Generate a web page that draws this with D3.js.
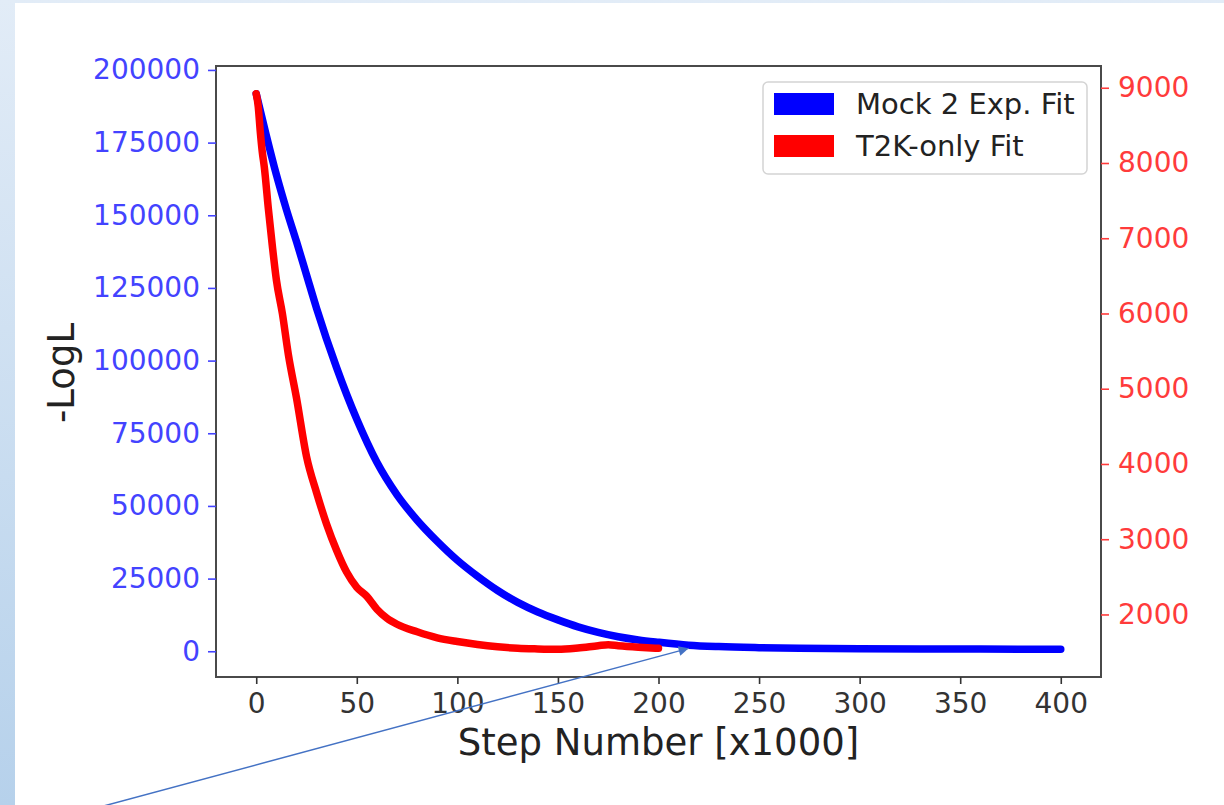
<!DOCTYPE html>
<html>
<head>
<meta charset="utf-8">
<script src="https://cdn.jsdelivr.net/npm/d3@7"></script>
<style>
  html, body { margin: 0; padding: 0; background: #fff; }
  svg text { font-family: "DejaVu Sans", sans-serif; }
</style>
</head>
<body>
<div class="visHolder"></div>
<script>
// series: [step (x1000), -LogL]
const mockSteps = [0, 5, 10, 15, 20, 25, 30, 40, 50, 60, 70, 80, 90, 100, 110, 120, 130, 140, 150,
  160, 170, 180, 190, 200, 215, 230, 250, 270, 300, 330, 360, 400];
const mockLogL = [191800, 177500, 164000, 152000, 141000, 129500, 118000, 97500, 79800, 65000, 53800,
  45100, 37800, 31300, 25800, 20900, 16800, 13500, 10800, 8400, 6500, 5000, 3900, 3100, 2100, 1600,
  1250, 1050, 900, 820, 760, 700];

const t2kSteps = [0, 1, 2, 3, 4, 6, 8, 10, 13, 16, 20, 25, 30, 35, 40, 45, 50, 55, 60, 65, 70, 80,
  90, 100, 110, 120, 130, 140, 150, 160, 170, 175, 180, 190, 200];
const t2kLogL = [8920, 8750, 8420, 8150, 7950, 7400, 6900, 6450, 6000, 5450, 4880, 4100, 3620, 3200,
  2850, 2560, 2360, 2240, 2070, 1950, 1870, 1770, 1690, 1640, 1600, 1570, 1550, 1542, 1538, 1555,
  1585, 1598, 1585, 1565, 1550];

const xTicks = [0, 50, 100, 150, 200, 250, 300, 350, 400];
const leftTicks = [0, 25000, 50000, 75000, 100000, 125000, 150000, 175000, 200000];
const rightTicks = [2000, 3000, 4000, 5000, 6000, 7000, 8000, 9000];
const seriesNames = ["Mock 2 Exp. Fit", "T2K-only Fit"];

const W = 1224, H = 805;
const L = 216, T = 66, R = 1101, B = 677;
const blue = "#0000ff", red = "#ff0000";

const svg = d3.select(".visHolder").append("svg")
  .attr("width", W).attr("height", H);

// slide background
const defs = svg.append("defs");
const grad = defs.append("linearGradient").attr("id", "bg")
  .attr("x1", 0).attr("y1", 0).attr("x2", 0).attr("y2", 1);
grad.append("stop").attr("offset", 0).attr("stop-color", "#e2ecf7");
grad.append("stop").attr("offset", 1).attr("stop-color", "#b6d1eb");
svg.append("rect").attr("width", W).attr("height", H).attr("fill", "url(#bg)");
svg.append("rect").attr("x", 15).attr("y", 3).attr("width", W - 15).attr("height", H - 3).attr("fill", "#fff");

// matplotlib style 5% margins
function padded(lo, hi) { const m = (hi - lo) * 0.05; return [lo - m, hi + m]; }

const x = d3.scaleLinear().domain(padded(0, 400)).range([L, R]);
const yL = d3.scaleLinear().domain(padded(d3.min(mockLogL), d3.max(mockLogL))).range([B, T]);
const yR = d3.scaleLinear().domain(padded(d3.min(t2kLogL), d3.max(t2kLogL))).range([B, T]);

const lineL = d3.line().curve(d3.curveMonotoneX).x((d, i) => x(mockSteps[i])).y(d => yL(d));
const lineR = d3.line().curve(d3.curveMonotoneX).x((d, i) => x(t2kSteps[i])).y(d => yR(d));

svg.append("path").datum(mockLogL)
  .attr("d", lineL).attr("fill", "none").attr("stroke", blue)
  .attr("stroke-width", 7.5).attr("stroke-linejoin", "round").attr("stroke-linecap", "round");
svg.append("path").datum(t2kLogL)
  .attr("d", lineR).attr("fill", "none").attr("stroke", red)
  .attr("stroke-width", 7.5).attr("stroke-linejoin", "round").attr("stroke-linecap", "round");

// frame
svg.append("rect").attr("x", L).attr("y", T).attr("width", R - L).attr("height", B - T)
  .attr("fill", "none").attr("stroke", "#4a4a4a").attr("stroke-width", 2);

function styleAxis(g, col) {
  g.select(".domain").remove();
  g.selectAll(".tick line").attr("stroke", col).attr("stroke-width", 1.6);
  g.selectAll(".tick text").attr("fill", col).attr("font-size", 28)
    .attr("font-family", "DejaVu Sans, sans-serif");
}

svg.append("g").attr("transform", `translate(0,${B})`)
  .call(d3.axisBottom(x).tickValues(xTicks).tickSize(7).tickPadding(9))
  .call(g => styleAxis(g, "#333"));

svg.append("g").attr("transform", `translate(${L},0)`)
  .call(d3.axisLeft(yL).tickValues(leftTicks).tickFormat(d3.format("d")).tickSize(8).tickPadding(8))
  .call(g => styleAxis(g, "#4343ff"));

svg.append("g").attr("transform", `translate(${R},0)`)
  .call(d3.axisRight(yR).tickValues(rightTicks).tickFormat(d3.format("d")).tickSize(8).tickPadding(9))
  .call(g => styleAxis(g, "#ff3b3b"));

// axis titles
svg.append("text").attr("x", (L + R) / 2).attr("y", 755)
  .attr("text-anchor", "middle").attr("font-size", 37).attr("fill", "#222")
  .text("Step Number [x1000]");
svg.append("text").attr("transform", "translate(74,373) rotate(-90)")
  .attr("text-anchor", "middle").attr("font-size", 37).attr("fill", "#222")
  .text("-LogL");

// legend
const leg = svg.append("g");
leg.append("rect").attr("x", 763).attr("y", 82).attr("width", 324).attr("height", 92)
  .attr("rx", 5).attr("fill", "#fff").attr("fill-opacity", 0.8)
  .attr("stroke", "#d4d4d4").attr("stroke-width", 1.5);
[blue, red].forEach((c, i) => {
  leg.append("rect").attr("x", 774).attr("y", 93 + i * 42).attr("width", 60).attr("height", 22).attr("fill", c);
  leg.append("text").attr("x", 856).attr("y", 114 + i * 42)
    .attr("font-size", 29).attr("fill", "#222").text(seriesNames[i]);
});

// slide annotation arrow
defs.append("marker").attr("id", "head").attr("viewBox", "0 0 10 10")
  .attr("refX", 10).attr("refY", 5).attr("markerWidth", 12).attr("markerHeight", 10)
  .attr("markerUnits", "userSpaceOnUse").attr("orient", "auto")
  .append("path").attr("d", "M0,0L10,5L0,10z").attr("fill", "#4472c4");
svg.append("line")
  .attr("x1", x(-80)).attr("y1", yL(-54000))
  .attr("x2", x(215)).attr("y2", yL(1000))
  .attr("stroke", "#4472c4").attr("stroke-width", 1.5)
  .attr("marker-end", "url(#head)");
</script>
</body>
</html>
